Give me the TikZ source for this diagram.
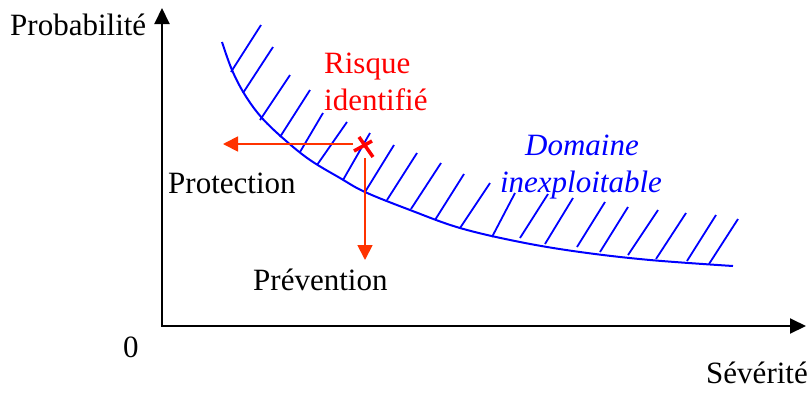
\documentclass[tikz,border=0pt]{standalone}
\usepackage{fontspec}
\setmainfont{Liberation Serif}
\usetikzlibrary{arrows.meta}
\definecolor{hatchblue}{RGB}{0,0,255}
\definecolor{riskred}{RGB}{255,0,0}
\definecolor{arrowred}{RGB}{255,51,0}
\begin{document}
\begin{tikzpicture}[x=1pt,y=-1pt,
  lbl/.style={inner sep=0pt, font=\fontsize{31}{37}\selectfont},
  axisline/.style={line width=2pt, {Triangle[length=16pt,width=15pt]}-{Triangle[length=16pt,width=15pt]}},
  hatch/.style={hatchblue, line width=1.8pt},
  curve/.style={hatchblue, line width=2pt},
  move/.style={arrowred, line width=1.8pt, -{Triangle[length=15pt,width=15pt]}},
  cross/.style={riskred, line width=3.5pt}]
\useasboundingbox (0,0) rectangle (812,392);

% axes
\coordinate (O) at (162,326);
\coordinate (ytip) at (162,8);
\coordinate (xtip) at (806,326);
\draw[axisline] (ytip) -- (O) -- (xtip);

% boundary curve
\draw[curve] plot[smooth, tension=0.6] coordinates {(222,42) (232,70) (245,95) (262,118) (285,140) (310,160) (340,178) (365,192) (410,210) (460,228) (520,242) (580,252) (650,260) (733,266)};

% hatching
\foreach \a/\b/\c/\d in {231/72/261/25, 243/93/273/47, 260/120/290/75, 280/137/310/90,
  300/152/323/113, 317/165/347/122, 343/180/370/133, 365/192/394/145, 387/200/417/153,
  411/209/441/163, 435/220/464/174, 460/228/490/183, 492/237/515/193, 520/238/548/194,
  545/244/573/198, 577/247/605/202, 600/252/628/207, 628/255/658/210, 656/259/686/213,
  687/261/716/215, 709/264/738/219}
  \draw[hatch] (\a,\b) -- (\c,\d);

% labels
\node[lbl, anchor=base west] (prob) at (10,35) {Probabilité};
\node[lbl, anchor=base west] (zero) at (123,357) {0};
\node[lbl, anchor=base east] (sev) at (808,383) {Sévérité};
\node[lbl, anchor=base west, text=riskred] (risk1) at (324,73) {Risque};
\node[lbl, anchor=base west, text=riskred] (risk2) at (324,110) {identifié};
\node[lbl, anchor=base, text=hatchblue, font=\fontsize{31}{37}\selectfont\itshape] (dom1) at (582,155) {Domaine};
\node[lbl, anchor=base, text=hatchblue, font=\fontsize{31}{37}\selectfont\itshape] (dom2) at (581,192) {inexploitable};
\node[lbl, anchor=base west] (prot) at (168,193) {Protection};
\node[lbl, anchor=base west] (prev) at (253,290) {Prévention};

% risk point and moves
\coordinate (hs) at (353,144);
\coordinate (ht) at (223,144);
\coordinate (vs) at (365,158);
\coordinate (vt) at (365,260);
\draw[move] (hs) -- (ht);
\draw[move] (vs) -- (vt);
\coordinate (xa) at (359,137);
\coordinate (xb) at (373,157);
\coordinate (xc) at (354,151);
\coordinate (xd) at (372,141);
\draw[cross] (xa) -- (xb);
\draw[cross] (xc) -- (xd);
\end{tikzpicture}
\end{document}
